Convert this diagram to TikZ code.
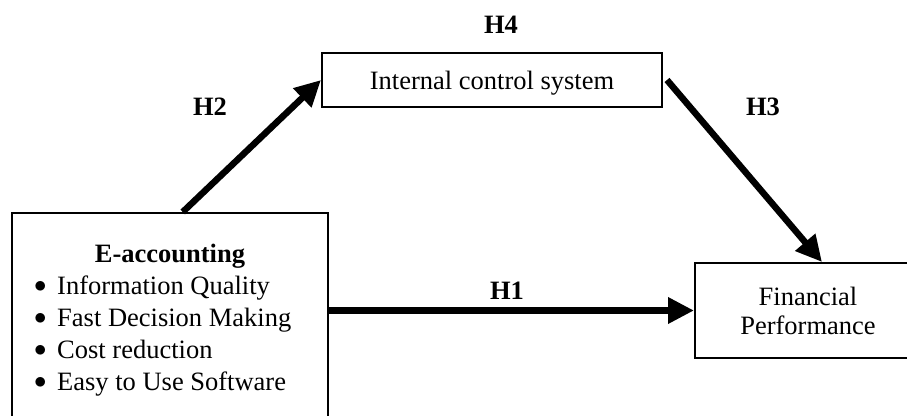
\documentclass[tikz,border=0pt]{standalone}
\usepackage{fontspec}
\setmainfont{Liberation Serif}
\usetikzlibrary{arrows.meta,calc}

\newcommand{\bodyfont}{\fontsize{26.5}{29}\selectfont}
\newcommand{\itemdot}{\makebox[23pt][l]{\raisebox{1.5pt}{$\bullet$}}}

\begin{document}
\begin{tikzpicture}[x=1pt, y=-1pt,
        every node/.style={font=\bodyfont},
        box/.style={draw, line width=2pt, inner sep=0pt},
        link/.style={line width=6.5pt, -{Triangle[length=26pt, width=25pt]}},
        hyp/.style={font=\bodyfont\bfseries}]
        \useasboundingbox (0,0) rectangle (907,415);

        % boxes
        \node[box, minimum width=316pt, minimum height=217pt] (ea) at (170,321.5) {};
        \node[box, minimum width=340pt, minimum height=54pt, text depth=0pt] (ics) at (492,80) {Internal control system};
        \node[box, minimum width=226pt, minimum height=95pt, align=center] (fp) at (808,310.5) {Financial\\Performance};

        % contents of the e-accounting box
        \node[hyp, anchor=base] (title) at (170,262) {E-accounting};
        \node[anchor=base west, inner sep=0pt] (item1) at (34,294) {\itemdot Information Quality};
        \node[anchor=base west, inner sep=0pt] (item2) at (34,326) {\itemdot Fast Decision Making};
        \node[anchor=base west, inner sep=0pt] (item3) at (34,358) {\itemdot Cost reduction};
        \node[anchor=base west, inner sep=0pt] (item4) at (34,390) {\itemdot Easy to Use Software};

        % paths
        \draw[link] ($(ea.north west)!0.54!(ea.north east)$) -- (ics.west);
        \draw[link] ([xshift=4pt]ics.east) -- ([xshift=14pt]fp.north);
        \draw[link] (ea.east |- fp.west) -- (fp.west);

        % hypotheses
        \node[hyp] (h1) at (507,291) {H1};
        \node[hyp] (h2) at (210,107) {H2};
        \node[hyp] (h3) at (763,107) {H3};
        \node[hyp] (h4) at (501,25) {H4};
    \end{tikzpicture}
\end{document}
